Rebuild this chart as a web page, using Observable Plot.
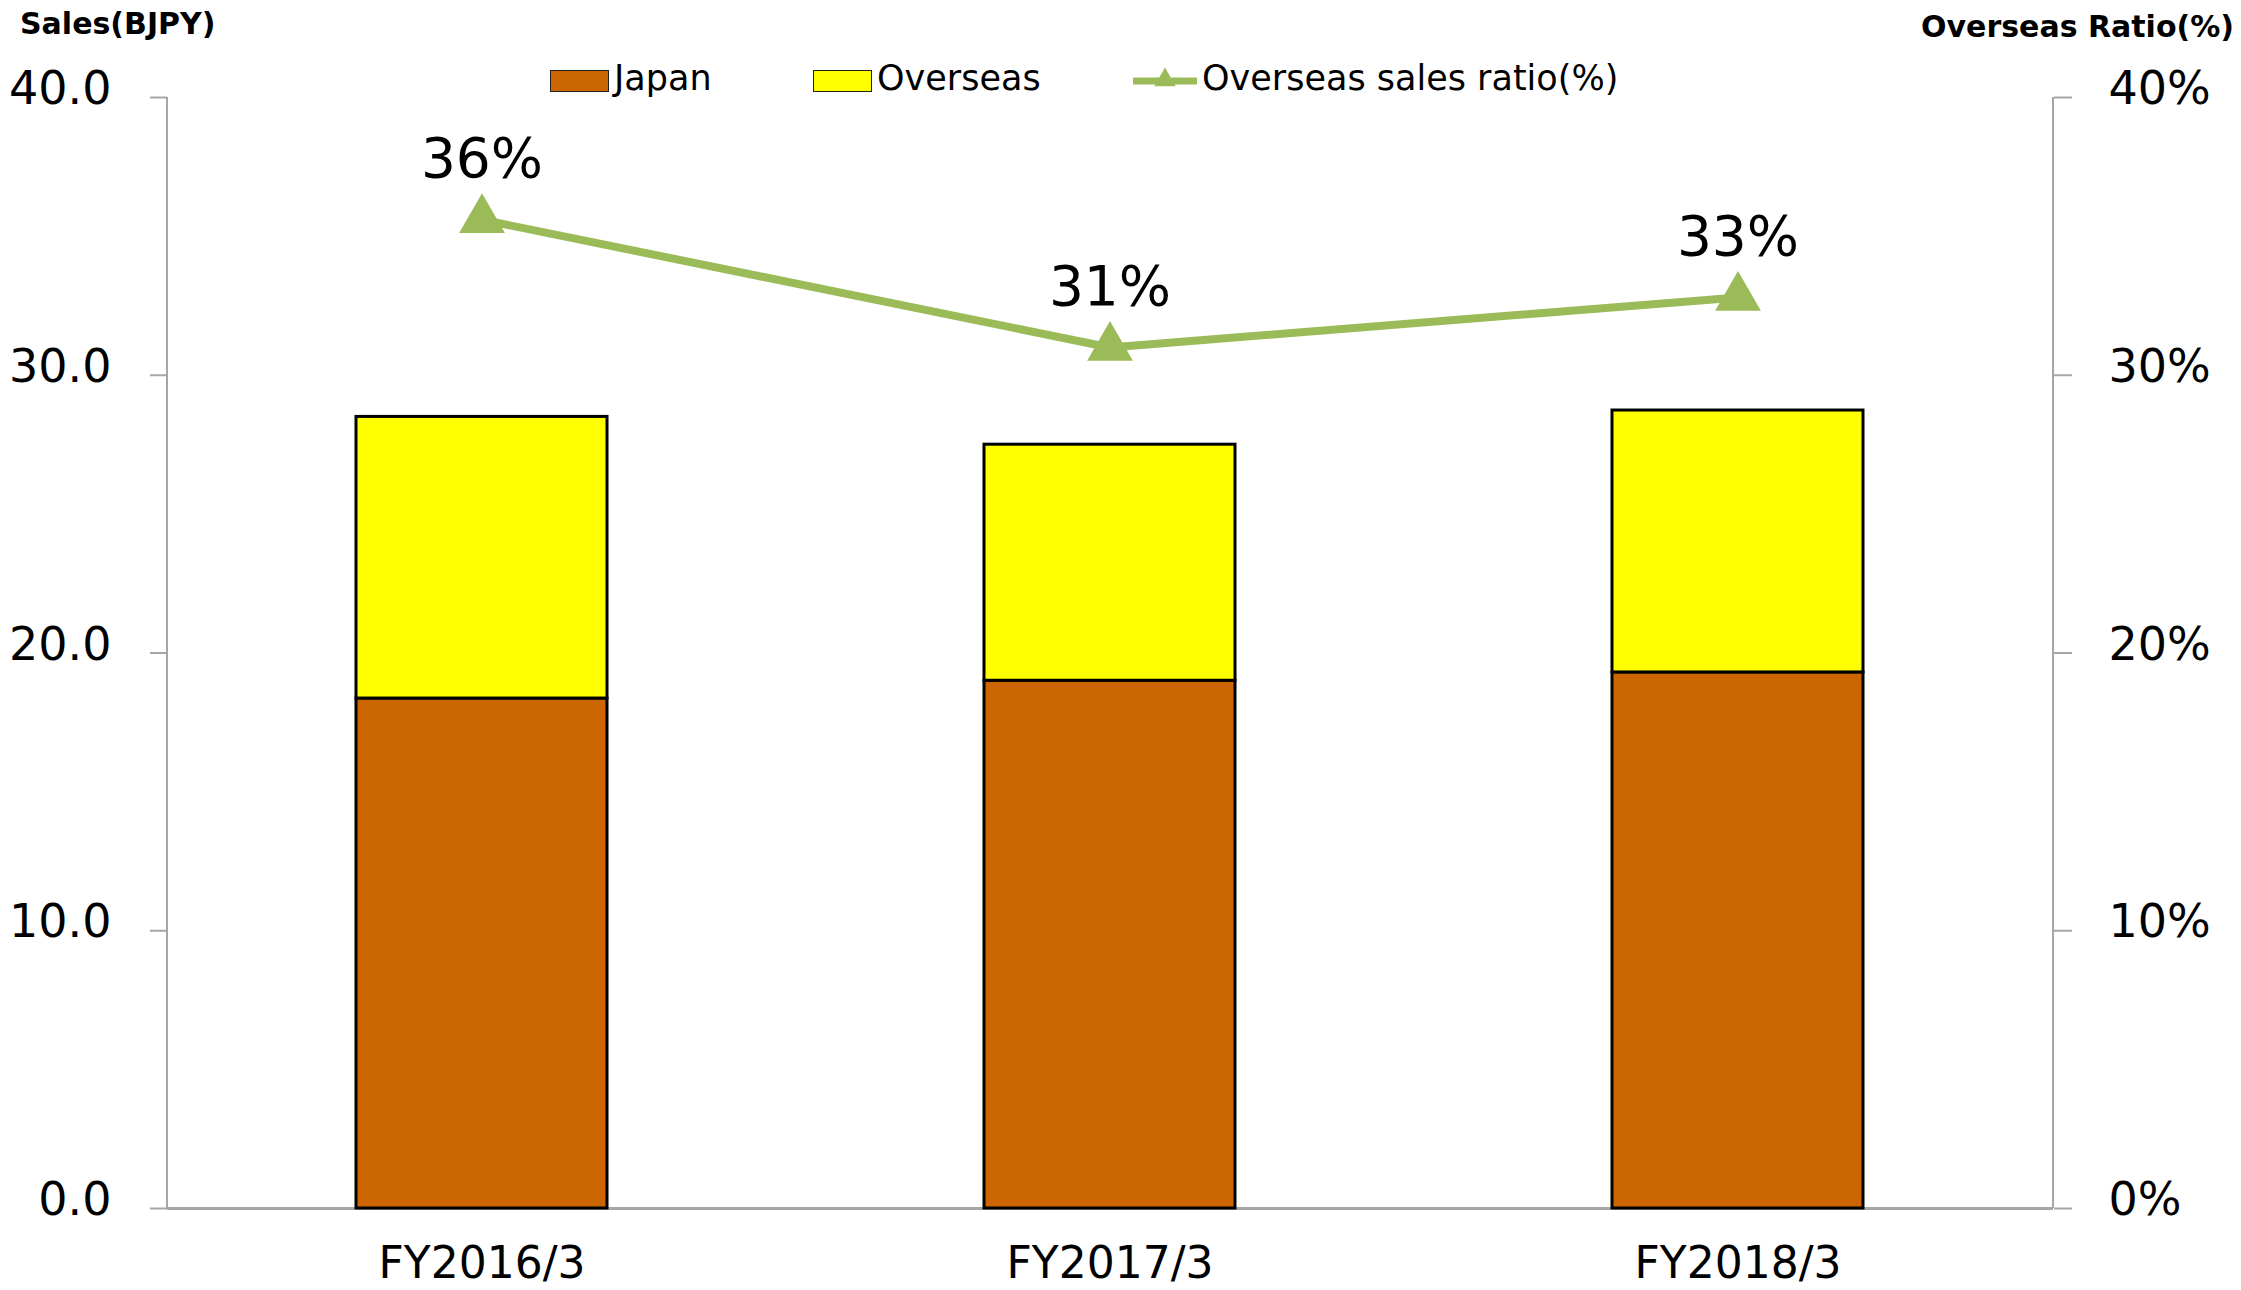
<!DOCTYPE html>
<html>
<head>
<meta charset="utf-8">
<script src="https://cdn.jsdelivr.net/npm/d3@7"></script>
<script src="https://cdn.jsdelivr.net/npm/@observablehq/plot@0.6"></script>
<style>
  body { margin: 0; background: #fff; font-family: "DejaVu Sans", sans-serif; }
  #wrap { position: relative; width: 2241px; height: 1290px; overflow: hidden; background: #fff; }
  #chart { position: absolute; left: 0; top: 0; }
  .t { position: absolute; white-space: nowrap; color: #000; line-height: 1; }
  .sw { position: absolute; box-sizing: border-box; border: 1.5px solid #222; }
</style>
</head>
<body>
<div id="wrap">
  <div id="chart"></div>
  <div class="t" style="left:20px; top:9px; font-size:30px; font-weight:bold;">Sales(BJPY)</div>
  <div class="t" style="right:7px; top:12px; font-size:30px; font-weight:bold;">Overseas Ratio(%)</div>
  <div id="legend"></div>
</div>
<script>
// ---- data ----
const years = ["FY2016/3", "FY2017/3", "FY2018/3"];
const series = ["Japan", "Overseas"];
const japanSales = [18.36, 19.0, 19.3];
const overseasSales = [10.14, 8.5, 9.43];
const overseasRatio = [35.6, 31.0, 32.8];
const yTicks = [0, 10, 20, 30, 40];
const lineName = "Overseas sales ratio(%)";

// ---- styles ----
const seriesColors = ["#cc6600", "#ffff00"];
const green = "#9bbb59";
const gray = "#a6a6a6";

const rows = [];
years.forEach((year, i) => {
  rows.push({year, series: series[0], value: japanSales[i]});
  rows.push({year, series: series[1], value: overseasSales[i]});
});
const ratioRows = years.map((year, i) => ({year, ratio: overseasRatio[i]}));
const yDomain = [yTicks[0], yTicks[yTicks.length - 1]];

// vertical axis lines on the left and right of the plot area
const axisLines = (index, scales, values, dims) => {
  const g = d3.create("svg:g").attr("stroke", gray).attr("stroke-width", 2);
  const xl = dims.marginLeft, xr = dims.width - dims.marginRight;
  const y0 = scales.y(yDomain[0]), y1 = scales.y(yDomain[1]);
  g.append("line").attr("x1", xl).attr("x2", xl).attr("y1", y1).attr("y2", y0);
  g.append("line").attr("x1", xr).attr("x2", xr).attr("y1", y1).attr("y2", y0);
  return g.node();
};

const chart = Plot.plot({
  width: 2241,
  height: 1290,
  marginTop: 97,
  marginBottom: 82,
  marginLeft: 167,
  marginRight: 188,
  style: {fontFamily: "DejaVu Sans", background: "white", color: "black", overflow: "visible"},
  x: {domain: years, paddingInner: 0.6, paddingOuter: 0.3},
  y: {domain: yDomain},
  color: {domain: series, range: seriesColors},
  marks: [
    axisLines,
    // tick lines
    Plot.axisY({anchor: "left", ticks: yTicks, tickSize: 17, stroke: gray, strokeWidth: 2, fill: "none", label: null}),
    Plot.axisY({anchor: "right", ticks: yTicks, tickSize: 18, stroke: gray, strokeWidth: 2, fill: "none", label: null}),
    // tick labels
    Plot.axisY({anchor: "left", ticks: yTicks, tickFormat: d3.format(".1f"), tickSize: 0, tickPadding: 56,
      fill: "black", fontSize: 46, dy: -8, label: null}),
    Plot.axisY({anchor: "right", ticks: yTicks, tickFormat: d => d + "%", tickSize: 0, tickPadding: 55,
      fill: "black", fontSize: 46, dy: -8, label: null}),
    Plot.axisX({tickSize: 0, tickPadding: 38, fill: "black", fontSize: 44, label: null}),
    Plot.ruleY([0], {stroke: gray, strokeWidth: 3}),
    Plot.barY(rows, {x: "year", y: "value", fill: "series", stroke: "black", strokeWidth: 3}),
    Plot.line(ratioRows, {x: "year", y: "ratio", stroke: green, strokeWidth: 8}),
    Plot.dot(ratioRows, {x: "year", y: "ratio", symbol: "triangle", r: 17, fill: green, stroke: "none"}),
    Plot.text(ratioRows, {x: "year", y: "ratio", text: d => Math.round(d.ratio) + "%", dy: -60, fontSize: 55, fill: "black"})
  ]
});
document.getElementById("chart").appendChild(chart);

// ---- legend ----
const legend = document.getElementById("legend");
const items = [
  {kind: "box", label: series[0], color: seriesColors[0], left: 550},
  {kind: "box", label: series[1], color: seriesColors[1], left: 813},
  {kind: "line", label: lineName, color: green, left: 1133}
];
items.forEach(it => {
  if (it.kind === "box") {
    const sw = document.createElement("div");
    sw.className = "sw";
    Object.assign(sw.style, {left: it.left + "px", top: "70px", width: "59px", height: "22px", background: it.color});
    legend.appendChild(sw);
    const t = document.createElement("div");
    t.className = "t";
    Object.assign(t.style, {left: (it.left + 64) + "px", top: "61px", fontSize: "35px"});
    t.textContent = it.label;
    legend.appendChild(t);
  } else {
    const s = d3.create("svg").attr("width", 66).attr("height", 30)
      .style("position", "absolute").style("left", it.left + "px").style("top", "66px");
    s.append("line").attr("x1", 0).attr("x2", 64).attr("y1", 15).attr("y2", 15)
      .attr("stroke", it.color).attr("stroke-width", 7);
    s.append("path").attr("d", d3.symbol(d3.symbolTriangle, 200)()).attr("transform", "translate(32,14)")
      .attr("fill", it.color);
    legend.appendChild(s.node());
    const t = document.createElement("div");
    t.className = "t";
    Object.assign(t.style, {left: (it.left + 69) + "px", top: "61px", fontSize: "35px"});
    t.textContent = it.label;
    legend.appendChild(t);
  }
});
</script>
</body>
</html>
